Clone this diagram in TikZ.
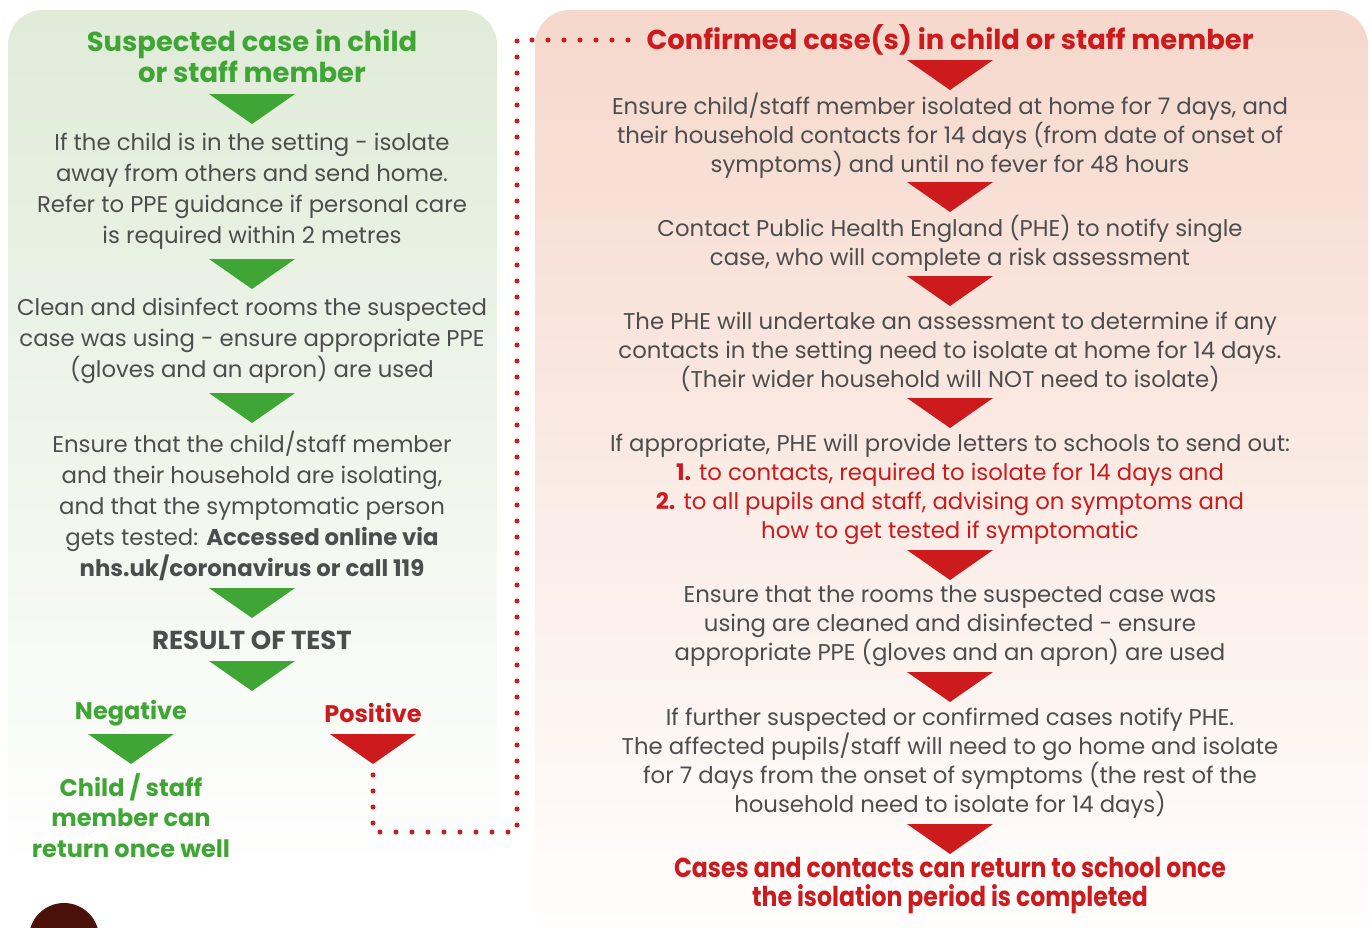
\documentclass[tikz,border=0pt]{standalone}
\usepackage{fontspec}
\setmainfont{Poppins}
\usetikzlibrary{calc}
\definecolor{GreenClr}{HTML}{3FA535}
\definecolor{RedClr}{HTML}{CC1A1D}
\definecolor{TextClr}{HTML}{4D4D4D}
\definecolor{GreenBg}{HTML}{E0EBD8}
\definecolor{PinkBg}{HTML}{F6D8CC}
\definecolor{HeadClr}{HTML}{4A1108}

\begin{document}
\begin{tikzpicture}[x=0.5pt,y=-0.5pt,
  body/.style={align=center,text=TextClr,inner sep=0pt,font=\fontsize{11.4}{15.5}\selectfont},
  rbody/.style={body,font=\fontsize{11.4}{14.5}\selectfont},
  ghead/.style={align=center,text=GreenClr,inner sep=0pt,font=\bfseries\fontsize{13.7}{15.5}\selectfont},
  rhead/.style={ghead,text=RedClr},
  glabel/.style={ghead,font=\bfseries\fontsize{12}{15.3}\selectfont},
  rlabel/.style={glabel,text=RedClr},
  rend/.style={rhead,font=\bfseries\fontsize{13.7}{14.5}\selectfont\addfontfeature{FakeStretch=0.86}},
  dotline/.style={RedClr,line width=2.5pt,line cap=round,dash pattern=on 0pt off 8pt},
  downtri/.pic={\fill (-43,0) -- (43,0) -- (0,30) -- cycle; \coordinate (-tip) at (0,30);}]
\clip (0,0) rectangle (1370,927);
\useasboundingbox (0,0) rectangle (1370,927);

% panels
\shade[top color=GreenBg,bottom color=white,rounded corners=17.5pt] (8,10) rectangle (497,875);
\shade[top color=PinkBg,bottom color=white,rounded corners=17.5pt] (535,10) rectangle (1368,960);

% suspected case
\node[ghead] (stitle) at (252,56.5) {Suspected case in child\\or staff member};
\pic[GreenClr] (g1) at (252,94) {downtri};
\node[body] (s1) at (252,191.5) {If the child is in the setting - isolate\\away from others and send home.\\Refer to PPE guidance if personal care\\is required within 2 metres};
\pic[GreenClr] (g2) at (252,259) {downtri};
\node[body] (s2) at (252,341) {Clean and disinfect rooms the suspected\\case was using - ensure appropriate PPE\\(gloves and an apron) are used};
\pic[GreenClr] (g3) at (252,393) {downtri};
\node[body] (s3) at (252,505.5) {Ensure that the child/staff member\\and their household are isolating,\\and that the symptomatic person\\gets tested: \textbf{Accessed online via}\\\textbf{nhs.uk/coronavirus or call 119}};
\pic[GreenClr] (g4) at (252,588) {downtri};
\node[ghead,text=TextClr,font=\bfseries\fontsize{13}{15}\selectfont] (result) at (252,640) {RESULT OF TEST};
\pic[GreenClr] (g5) at (252,661) {downtri};
\node[glabel] (neg) at (131,713) {Negative};
\node[rlabel] (pos) at (373,713) {Positive};
\pic[GreenClr] (gn) at (131,734) {downtri};
\pic[RedClr] (rp) at (373,734) {downtri};
\node[glabel] (well) at (131,815.5) {Child / staff\\member can\\return once well};

% confirmed case
\node[rhead] (ctitle) at (950,40) {Confirmed case(s) in child or staff member};
\pic[RedClr] (r1) at (950,60) {downtri};
\node[rbody] (c1) at (950,136) {Ensure child/staff member isolated at home for 7 days, and\\their household contacts for 14 days (from date of onset of\\symptoms) and until no fever for 48 hours};
\pic[RedClr] (r2) at (950,182) {downtri};
\node[rbody] (c2) at (950,243.5) {Contact Public Health England (PHE) to notify single\\case, who will complete a risk assessment};
\pic[RedClr] (r3) at (950,276) {downtri};
\node[rbody] (c3) at (950,352) {The PHE will undertake an assessment to determine if any\\contacts in the setting need to isolate at home for 14 days.\\(Their wider household will NOT need to isolate)};
\pic[RedClr] (r4) at (950,398) {downtri};
\node[rbody] (c4) at (950,489) {If appropriate, PHE will provide letters to schools to send out:\\{\color{RedClr}\textbf{1.} to contacts, required to isolate for 14 days and}\\{\color{RedClr}\textbf{2.} to all pupils and staff, advising on symptoms and}\\{\color{RedClr}how to get tested if symptomatic}};
\pic[RedClr] (r5) at (950,550) {downtri};
\node[rbody] (c5) at (950,626) {Ensure that the rooms the suspected case was\\using are cleaned and disinfected - ensure\\appropriate PPE (gloves and an apron) are used};
\pic[RedClr] (r6) at (950,672) {downtri};
\node[rbody] (c6) at (950,763.5) {If further suspected or confirmed cases notify PHE.\\The affected pupils/staff will need to go home and isolate\\for 7 days from the onset of symptoms (the rest of the\\household need to isolate for 14 days)};
\pic[RedClr] (r7) at (950,824) {downtri};
\node[rend] (cend) at (950,885.5) {Cases and contacts can return to school once\\the isolation period is completed};

% positive result leads to confirmed case
\coordinate (bend) at (517,832);
\draw[dotline] ($(rp-tip)+(0,11)$) |- (bend) |- ($(ctitle.west)+(-12,0)$);

% icon, cut off
\fill[HeadClr] (64,938) circle (35);
\end{tikzpicture}
\end{document}
